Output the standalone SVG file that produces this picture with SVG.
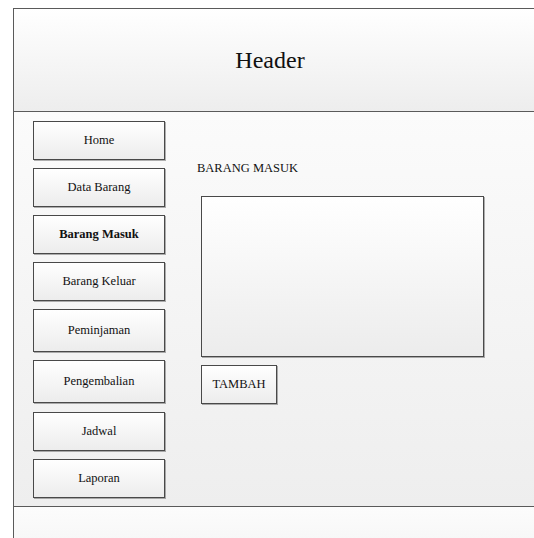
<svg xmlns="http://www.w3.org/2000/svg" width="534" height="538" viewBox="0 0 534 538">
<defs>
<linearGradient id="gHead" x1="0" y1="0" x2="0" y2="1"><stop offset="0" stop-color="#ffffff"/><stop offset="1" stop-color="#ededed"/></linearGradient>
<linearGradient id="gBody" x1="0" y1="0" x2="0" y2="1"><stop offset="0" stop-color="#fbfbfb"/><stop offset="1" stop-color="#eeeeee"/></linearGradient>
<linearGradient id="gFoot" x1="0" y1="0" x2="0" y2="1"><stop offset="0" stop-color="#fcfcfc"/><stop offset="1" stop-color="#f3f3f3"/></linearGradient>
<linearGradient id="gBtn" x1="0" y1="0" x2="0" y2="1"><stop offset="0" stop-color="#ffffff"/><stop offset="1" stop-color="#ececec"/></linearGradient>
<linearGradient id="gBox" x1="0" y1="0" x2="0" y2="1"><stop offset="0" stop-color="#ffffff"/><stop offset="1" stop-color="#eeeeee"/></linearGradient>
<filter id="sh" x="-5%" y="-5%" width="110%" height="120%"><feDropShadow dx="1" dy="1" stdDeviation="0.6" flood-color="#000" flood-opacity="0.3"/></filter>
</defs>
<style>
.frame{stroke:#5a5a5a;stroke-width:1}
.btn{fill:url(#gBtn);stroke:#4a4a4a;stroke-width:1;filter:url(#sh)}
.t{font-family:"Liberation Serif","Times New Roman",serif;font-size:12.5px;fill:#111;text-anchor:middle}
</style>
<g id="footer"><rect class="frame" x="13.5" y="506.5" width="600" height="60" fill="url(#gFoot)"/></g>
<g id="body"><rect class="frame" x="13.5" y="111.5" width="600" height="395" fill="url(#gBody)"/></g>
<g id="header"><rect class="frame" x="13.5" y="8.5" width="600" height="103" fill="url(#gHead)"/>
<text x="270" y="68" class="t" style="font-size:24px">Header</text></g>
<g id="nav-home"><rect class="btn" x="33.5" y="121.5" width="131" height="38"/><text class="t" x="99" y="144">Home</text></g>
<g id="nav-data-barang"><rect class="btn" x="33.5" y="168.5" width="131" height="38"/><text class="t" x="99" y="191">Data Barang</text></g>
<g id="nav-barang-masuk"><rect class="btn" x="33.5" y="215.5" width="131" height="38"/><text class="t" x="99" y="238" font-weight="bold">Barang Masuk</text></g>
<g id="nav-barang-keluar"><rect class="btn" x="33.5" y="262.5" width="131" height="38"/><text class="t" x="99" y="285">Barang Keluar</text></g>
<g id="nav-peminjaman"><rect class="btn" x="33.5" y="309.5" width="131" height="42"/><text class="t" x="99" y="334">Peminjaman</text></g>
<g id="nav-pengembalian"><rect class="btn" x="33.5" y="360.5" width="131" height="42"/><text class="t" x="99" y="385">Pengembalian</text></g>
<g id="nav-jadwal"><rect class="btn" x="33.5" y="412.5" width="131" height="38"/><text class="t" x="99" y="435">Jadwal</text></g>
<g id="nav-laporan"><rect class="btn" x="33.5" y="459.5" width="131" height="38"/><text class="t" x="99" y="482">Laporan</text></g>
<g id="title"><text class="t" x="197" y="172" style="text-anchor:start">BARANG MASUK</text></g>
<g id="content-box"><rect class="btn" x="201.5" y="196.5" width="282" height="160" fill="url(#gBox)"/></g>
<g id="btn-tambah"><rect class="btn" x="201.5" y="365.5" width="75" height="38"/><text class="t" x="239" y="388">TAMBAH</text></g>
<g id="connectors"/>
</svg>
